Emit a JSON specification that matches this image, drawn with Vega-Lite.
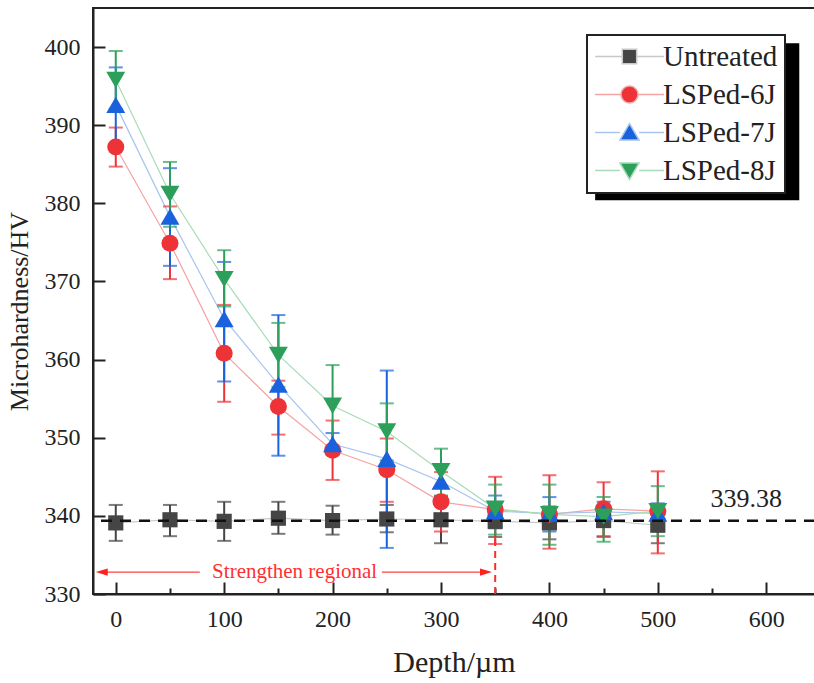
{
  "$schema": "https://vega.github.io/schema/vega-lite/v6.json",
  "width": 722,
  "height": 586,
  "autosize": "none",
  "padding": {"left": 93, "top": 8, "right": 0, "bottom": 89},
  "config": {
    "view": {"stroke": "#222222", "strokeWidth": 2},
    "font": "Liberation Serif",
    "legend": {"orient": "none", "legendX": 494, "legendY": 27, "padding": 7, "fillColor": "#ffffff", "strokeColor": "#222222", "strokeWidth": 2, "labelFont": "Liberation Serif", "labelFontSize": 29, "labelColor": "#222222", "rowPadding": 8, "symbolSize": 256, "symbolOffset": 21, "labelOffset": 19, "symbolOpacity": 1, "symbolStrokeWidth": 1.5},
    "axis": {"grid": false, "domainColor": "#222222", "domainWidth": 2, "tickColor": "#222222", "tickWidth": 2, "labelFont": "Liberation Serif", "labelFontSize": 24, "labelColor": "#222222", "titleFont": "Liberation Serif", "titleFontSize": 30, "titleFontWeight": "normal", "titleColor": "#222222"}
  },
  "data": {"values": [
    {"depth": 0, "series": "Untreated", "hv": 339.1, "lo": 336.8, "hi": 341.4},
    {"depth": 50, "series": "Untreated", "hv": 339.5, "lo": 337.4, "hi": 341.4},
    {"depth": 100, "series": "Untreated", "hv": 339.3, "lo": 336.8, "hi": 341.8},
    {"depth": 150, "series": "Untreated", "hv": 339.7, "lo": 337.7, "hi": 341.8},
    {"depth": 200, "series": "Untreated", "hv": 339.4, "lo": 337.6, "hi": 341.3},
    {"depth": 250, "series": "Untreated", "hv": 339.6, "lo": 337.9, "hi": 341.4},
    {"depth": 300, "series": "Untreated", "hv": 339.5, "lo": 336.5, "hi": 342.4},
    {"depth": 350, "series": "Untreated", "hv": 339.3, "lo": 337.3, "hi": 341.3},
    {"depth": 400, "series": "Untreated", "hv": 339.1, "lo": 337.0, "hi": 341.2},
    {"depth": 450, "series": "Untreated", "hv": 339.4, "lo": 337.4, "hi": 341.3},
    {"depth": 500, "series": "Untreated", "hv": 338.8, "lo": 336.5, "hi": 341.1},
    {"depth": 0, "series": "LSPed-6J", "hv": 387.2, "lo": 384.7, "hi": 389.7},
    {"depth": 50, "series": "LSPed-6J", "hv": 374.9, "lo": 370.3, "hi": 379.6},
    {"depth": 100, "series": "LSPed-6J", "hv": 360.8, "lo": 354.6, "hi": 367.0},
    {"depth": 150, "series": "LSPed-6J", "hv": 354.0, "lo": 350.4, "hi": 357.3},
    {"depth": 200, "series": "LSPed-6J", "hv": 348.4, "lo": 344.6, "hi": 352.2},
    {"depth": 250, "series": "LSPed-6J", "hv": 345.9, "lo": 341.8, "hi": 349.9},
    {"depth": 300, "series": "LSPed-6J", "hv": 341.8, "lo": 338.0, "hi": 345.6},
    {"depth": 350, "series": "LSPed-6J", "hv": 340.8, "lo": 336.4, "hi": 345.0},
    {"depth": 400, "series": "LSPed-6J", "hv": 340.2, "lo": 335.8, "hi": 345.2},
    {"depth": 450, "series": "LSPed-6J", "hv": 340.9, "lo": 337.3, "hi": 344.3},
    {"depth": 500, "series": "LSPed-6J", "hv": 340.6, "lo": 335.2, "hi": 345.7},
    {"depth": 0, "series": "LSPed-7J", "hv": 392.6, "lo": 387.5, "hi": 397.4},
    {"depth": 50, "series": "LSPed-7J", "hv": 378.3, "lo": 372.0, "hi": 384.5},
    {"depth": 100, "series": "LSPed-7J", "hv": 365.2, "lo": 357.2, "hi": 372.5},
    {"depth": 150, "series": "LSPed-7J", "hv": 356.8, "lo": 347.7, "hi": 365.7},
    {"depth": 200, "series": "LSPed-7J", "hv": 349.2, "lo": 347.8, "hi": 350.6},
    {"depth": 250, "series": "LSPed-7J", "hv": 347.3, "lo": 335.9, "hi": 358.6},
    {"depth": 300, "series": "LSPed-7J", "hv": 344.4, "lo": 342.5, "hi": 346.4},
    {"depth": 350, "series": "LSPed-7J", "hv": 340.6, "lo": 338.4, "hi": 342.6},
    {"depth": 400, "series": "LSPed-7J", "hv": 340.3, "lo": 338.0, "hi": 342.4},
    {"depth": 450, "series": "LSPed-7J", "hv": 340.5, "lo": 339.0, "hi": 341.8},
    {"depth": 500, "series": "LSPed-7J", "hv": 340.3, "lo": 338.8, "hi": 341.6},
    {"depth": 0, "series": "LSPed-8J", "hv": 395.8, "lo": 392.1, "hi": 399.5},
    {"depth": 50, "series": "LSPed-8J", "hv": 381.2, "lo": 377.0, "hi": 385.3},
    {"depth": 100, "series": "LSPed-8J", "hv": 370.3, "lo": 366.8, "hi": 374.0},
    {"depth": 150, "series": "LSPed-8J", "hv": 360.6, "lo": 356.5, "hi": 364.7},
    {"depth": 200, "series": "LSPed-8J", "hv": 354.1, "lo": 348.8, "hi": 359.3},
    {"depth": 250, "series": "LSPed-8J", "hv": 350.8, "lo": 347.1, "hi": 354.4},
    {"depth": 300, "series": "LSPed-8J", "hv": 345.7, "lo": 342.6, "hi": 348.6},
    {"depth": 350, "series": "LSPed-8J", "hv": 340.9, "lo": 337.6, "hi": 344.0},
    {"depth": 400, "series": "LSPed-8J", "hv": 340.2, "lo": 336.3, "hi": 344.0},
    {"depth": 450, "series": "LSPed-8J", "hv": 339.9, "lo": 336.7, "hi": 342.4},
    {"depth": 500, "series": "LSPed-8J", "hv": 340.6, "lo": 337.4, "hi": 343.8}
  ]},
  "layer": [
    {
      "mark": {"type": "line", "strokeWidth": 1.2},
      "encoding": {
        "x": {"field": "depth", "type": "quantitative", "scale": {"domain": [-21, 645], "nice": false, "zero": false},
          "axis": {"title": "Depth/µm", "values": [0, 50, 100, 150, 200, 250, 300, 350, 400, 450, 500, 550, 600], "labelExpr": "datum.value % 100 === 0 ? datum.label : ''", "tickSize": {"condition": {"test": "datum.value % 100 === 0", "value": -12}, "value": -6}, "labelPadding": 25, "titlePadding": 16}},
        "y": {"field": "hv", "type": "quantitative", "scale": {"domain": [330, 405], "nice": false, "zero": false},
          "axis": {"title": "Microhardness/HV", "titleFontSize": 26, "titleY": 303, "values": [330, 335, 340, 345, 350, 355, 360, 365, 370, 375, 380, 385, 390, 395, 400, 405], "labelExpr": "datum.value % 10 === 0 ? datum.label : ''", "tickSize": {"condition": {"test": "datum.value % 10 === 0", "value": -12}, "value": -7}, "labelPadding": 25, "titlePadding": 12}},
        "stroke": {"field": "series", "type": "nominal", "title": null,
          "scale": {"domain": ["Untreated", "LSPed-6J", "LSPed-7J", "LSPed-8J"], "range": ["#c8c8c8", "#f5a3a3", "#a8c4f0", "#a8dcb8"]}}
      }
    },
    {
      "transform": [{"filter": {"field": "series", "equal": "Untreated"}}],
      "mark": {"type": "errorbar", "color": "#454545", "thickness": 2, "ticks": {"size": 14, "thickness": 2}},
      "encoding": {"x": {"field": "depth", "type": "quantitative"}, "y": {"field": "lo", "type": "quantitative", "title": "Microhardness/HV"}, "y2": {"field": "hi"}}
    },
    {
      "transform": [{"filter": {"field": "series", "equal": "LSPed-6J"}}],
      "mark": {"type": "errorbar", "color": "#ee3338", "thickness": 2, "ticks": {"size": 14, "thickness": 2}},
      "encoding": {"x": {"field": "depth", "type": "quantitative"}, "y": {"field": "lo", "type": "quantitative", "title": "Microhardness/HV"}, "y2": {"field": "hi"}}
    },
    {
      "transform": [{"filter": {"field": "series", "equal": "LSPed-7J"}}],
      "mark": {"type": "errorbar", "color": "#1a62dd", "thickness": 2, "ticks": {"size": 14, "thickness": 2}},
      "encoding": {"x": {"field": "depth", "type": "quantitative"}, "y": {"field": "lo", "type": "quantitative", "title": "Microhardness/HV"}, "y2": {"field": "hi"}}
    },
    {
      "transform": [{"filter": {"field": "series", "equal": "LSPed-8J"}}],
      "mark": {"type": "errorbar", "color": "#2ca05a", "thickness": 2, "ticks": {"size": 14, "thickness": 2}},
      "encoding": {"x": {"field": "depth", "type": "quantitative"}, "y": {"field": "lo", "type": "quantitative", "title": "Microhardness/HV"}, "y2": {"field": "hi"}}
    },
    {
      "transform": [{"filter": {"field": "series", "equal": "Untreated"}}],
      "mark": {"type": "point", "filled": true, "opacity": 1, "shape": "square", "size": 230, "color": "#454545"},
      "encoding": {"x": {"field": "depth", "type": "quantitative"}, "y": {"field": "hv", "type": "quantitative"}}
    },
    {
      "transform": [{"filter": {"field": "series", "equal": "LSPed-6J"}}],
      "mark": {"type": "point", "filled": true, "opacity": 1, "shape": "circle", "size": 290, "color": "#ee3338"},
      "encoding": {"x": {"field": "depth", "type": "quantitative"}, "y": {"field": "hv", "type": "quantitative"}}
    },
    {
      "transform": [{"filter": {"field": "series", "equal": "LSPed-7J"}}],
      "mark": {"type": "point", "filled": true, "opacity": 1, "shape": "triangle-up", "size": 360, "color": "#1a62dd"},
      "encoding": {"x": {"field": "depth", "type": "quantitative"}, "y": {"field": "hv", "type": "quantitative"}}
    },
    {
      "transform": [{"filter": {"field": "series", "equal": "LSPed-8J"}}],
      "mark": {"type": "point", "filled": true, "opacity": 1, "shape": "triangle-down", "size": 360, "color": "#2ca05a"},
      "encoding": {"x": {"field": "depth", "type": "quantitative"}, "y": {"field": "hv", "type": "quantitative"}}
    },
    {
      "data": {"values": [{}]},
      "mark": {"type": "rect", "color": "#000000"},
      "encoding": {"x": {"datum": 442.2}, "x2": {"datum": 630.5}, "y": {"datum": 400.5}, "y2": {"datum": 380.4}}
    },
    {
      "mark": {"type": "point", "filled": true, "opacity": 0},
      "encoding": {
        "x": {"field": "depth", "type": "quantitative"},
        "y": {"field": "hv", "type": "quantitative"},
        "fill": {"field": "series", "type": "nominal", "title": null,
          "scale": {"domain": ["Untreated", "LSPed-6J", "LSPed-7J", "LSPed-8J"], "range": ["#454545", "#ee3338", "#1a62dd", "#2ca05a"]}},
        "shape": {"field": "series", "type": "nominal", "title": null,
          "scale": {"domain": ["Untreated", "LSPed-6J", "LSPed-7J", "LSPed-8J"], "range": ["M-4.3,0H-1M1,0H4.3M-0.9,-0.9H0.9V0.9H-0.9Z", "M-4.3,0H-1.1M1.1,0H4.3M-1.06,0A1.06,1.06,0,1,0,1.06,0A1.06,1.06,0,1,0,-1.06,0Z", "M-4.3,0H-1.2M1.2,0H4.3M0,-1.1L1.2,0.95L-1.2,0.95Z", "M-4.3,0H-1.2M1.2,0H4.3M0,1.1L1.2,-0.95L-1.2,-0.95Z"]}},
        "stroke": {"field": "series", "type": "nominal", "title": null,
          "scale": {"domain": ["Untreated", "LSPed-6J", "LSPed-7J", "LSPed-8J"], "range": ["#c8c8c8", "#f5a3a3", "#a8c4f0", "#a8dcb8"]}}
      }
    },
    {
      "data": {"values": [{}]},
      "mark": {"type": "rule", "color": "#111111", "strokeWidth": 2.5, "strokeDash": [11, 8]},
      "encoding": {"y": {"datum": 339.38}}
    },
    {
      "data": {"values": [{}]},
      "mark": {"type": "text", "fontSize": 26, "font": "Liberation Serif", "color": "#222222", "align": "center", "baseline": "middle"},
      "encoding": {"x": {"datum": 581.5}, "y": {"datum": 342.2}, "text": {"value": "339.38"}}
    },
    {
      "data": {"values": [{}]},
      "mark": {"type": "rule", "color": "#ff2a2a", "strokeWidth": 2, "strokeDash": [7, 5]},
      "encoding": {"x": {"datum": 350}, "y": {"datum": 330}, "y2": {"datum": 337.6}}
    },
    {
      "data": {"values": [{}]},
      "mark": {"type": "rule", "color": "#ff4040", "strokeWidth": 1.2},
      "encoding": {"x": {"datum": -12.9}, "x2": {"datum": 77.5}, "y": {"datum": 332.8}}
    },
    {
      "data": {"values": [{}]},
      "mark": {"type": "rule", "color": "#ff4040", "strokeWidth": 1.2},
      "encoding": {"x": {"datum": 245.4}, "x2": {"datum": 341.5}, "y": {"datum": 332.8}}
    },
    {
      "data": {"values": [{}]},
      "mark": {"type": "point", "filled": true, "opacity": 1, "color": "#ff2020", "shape": "M-1,0L1,-0.6L1,0.6Z", "size": 144},
      "encoding": {"x": {"datum": -12.9}, "y": {"datum": 332.8}}
    },
    {
      "data": {"values": [{}]},
      "mark": {"type": "point", "filled": true, "opacity": 1, "color": "#ff2020", "shape": "M1,0L-1,-0.6L-1,0.6Z", "size": 144},
      "encoding": {"x": {"datum": 341.5}, "y": {"datum": 332.8}}
    },
    {
      "data": {"values": [{}]},
      "mark": {"type": "text", "fontSize": 21, "font": "Liberation Serif", "color": "#ff3030", "align": "center", "baseline": "middle"},
      "encoding": {"x": {"datum": 165}, "y": {"datum": 332.8}, "text": {"value": "Strengthen regional"}}
    }
  ]
}
